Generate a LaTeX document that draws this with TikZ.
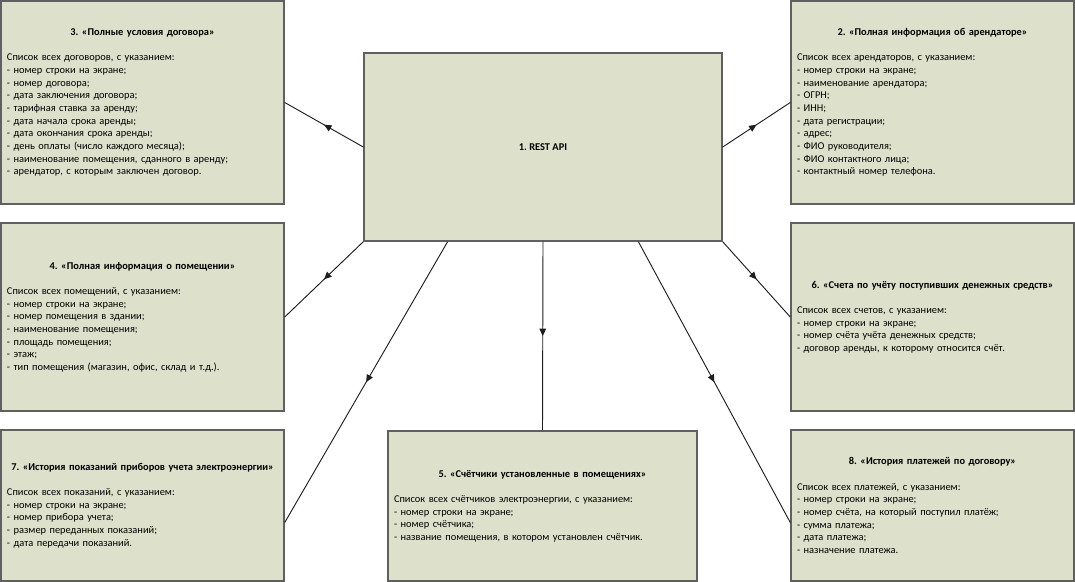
\documentclass[tikz,border=0pt]{standalone}
\usepackage{fontspec}
\setmainfont{Carlito}
\usetikzlibrary{arrows.meta, decorations.markings, calc}
\definecolor{boxfill}{RGB}{221,224,203}
\definecolor{boxline}{RGB}{96,96,96}
\definecolor{wire}{RGB}{30,30,30}
\newcommand{\infotext}[2]{{\centering\textbf{#1}\par}\vspace{9.5pt}#2}
\frenchspacing

\begin{document}
\begin{tikzpicture}[x=0.75pt, y=-0.75pt, every node/.style={font=\fontsize{7.8}{9.5}\selectfont},
   box/.style={draw=boxline, fill=boxfill, line width=1.1pt, align=left, text width=203.25pt, inner xsep=4.5pt, inner ysep=0pt},
   wide/.style={box, text width=222.75pt},
   apibox/.style={draw=boxline, fill=boxfill, line width=1.1pt, minimum width=268.5pt, minimum height=141pt, font=\fontsize{7.8}{9.5}\selectfont\bfseries},
   link/.style={draw=wire, line width=0.7pt, postaction={decorate}, decoration={markings, mark=at position 0.5 with {\arrow{Triangle[length=5.5pt, width=5pt]}}}}]
  \useasboundingbox (0,0) rectangle (1075,582);
  \node[apibox] (api) at (543,147) {1. REST API};
  \node[box, minimum height=152.25pt] (b3) at (142.5,102.5) {\infotext{3. «Полные условия договора»}{Список всех договоров, с указанием:\\
    - номер строки на экране;\\
    - номер договора;\\
    - дата заключения договора;\\
    - тарифная ставка за аренду;\\
    - дата начала срока аренды;\\
    - дата окончания срока аренды;\\
    - день оплаты (число каждого месяца);\\
    - наименование помещения, сданного в аренду;\\
    - арендатор, с которым заключен договор.}};
  \node[box, minimum height=152.25pt] (b2) at (932.5,102.5) {\infotext{2. «Полная информация об арендаторе»}{Список всех арендаторов, с указанием:\\
    - номер строки на экране;\\
    - наименование арендатора;\\
    - ОГРН;\\
    - ИНН;\\
    - дата регистрации;\\
    - адрес;\\
    - ФИО руководителя;\\
    - ФИО контактного лица;\\
    - контактный номер телефона.}};
  \node[box, minimum height=141pt] (b4) at (142.5,317) {\infotext{4. «Полная информация о помещении»}{Список всех помещений, с указанием:\\
    - номер строки на экране;\\
    - номер помещения в здании;\\
    - наименование помещения;\\
    - площадь помещения;\\
    - этаж;\\
    - тип помещения (магазин, офис, склад и т.д.).}};
  \node[box, minimum height=141pt] (b6) at (932.5,317) {\infotext{6. «Счета по учёту поступивших денежных средств»}{Список всех счетов, с указанием:\\
    - номер строки на экране;\\
    - номер счёта учёта денежных средств;\\
    - договор аренды, к которому относится счёт.}};
  \node[box, minimum height=113.25pt] (b7) at (142.5,505.5) {\infotext{7. «История показаний приборов учета электроэнергии»}{Список всех показаний, с указанием:\\
    - номер строки на экране;\\
    - номер прибора учета;\\
    - размер переданных показаний;\\
    - дата передачи показаний.}};
  \node[wide, minimum height=112.5pt] (b5) at (542.5,506) {\infotext{5. «Счётчики установленные в помещениях»}{Список всех счётчиков электроэнергии, с указанием:\\
    - номер строки на экране;\\
    - номер счётчика;\\
    - название помещения, в котором установлен счётчик.}};
  \node[box, minimum height=113.25pt] (b8) at (932.5,505.5) {\infotext{8. «История платежей по договору»}{Список всех платежей, с указанием:\\
    - номер строки на экране;\\
    - номер счёта, на который поступил платёж;\\
    - сумма платежа;\\
    - дата платежа;\\
    - назначение платежа.}};
  % points where the long connectors leave and meet the boxes
  \coordinate (api-l) at ($(api.south west)!0.2346!(api.south east)$);
  \coordinate (api-r) at ($(api.south west)!0.7654!(api.south east)$);
  \coordinate (b7-in) at ([yshift=-12.75pt]b7.east);
  \coordinate (b8-in) at ([yshift=-12.75pt]b8.west);
  \foreach \i/\j in {api.west/b3.east, api.east/b2.west, api.south west/b4.east, api.south east/b6.west, api-l/b7-in, api.south/b5.north, api-r/b8-in} \draw[link] (\i) -- (\j);
\end{tikzpicture}
\end{document}
